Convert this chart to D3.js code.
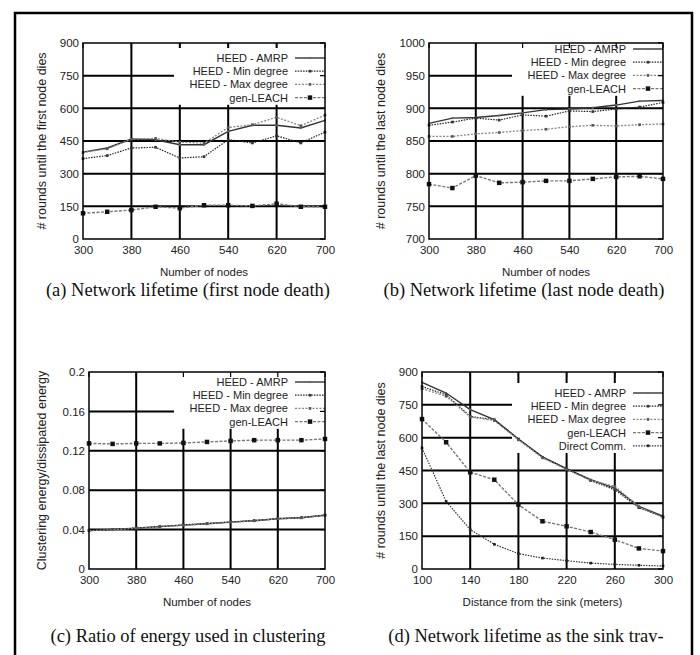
<!DOCTYPE html>
<meta charset='utf-8'>
<style>
  body { margin: 0; background: #fff; }
  svg { display: block; }
  .tick text, .lbl, .leg { font-family: 'Liberation Sans', Arial, sans-serif; fill: #222; }
  .cap { font-family: 'Liberation Serif', 'Times New Roman', serif; fill: #111; }
</style>
<body>
<script src='https://cdn.jsdelivr.net/npm/d3@7/dist/d3.min.js'></script>
<script>
  // x values
  const nodes = [300, 340, 380, 420, 460, 500, 540, 580, 620, 660, 700]
  const nodeTicks = [300, 380, 460, 540, 620, 700]
  const distance = [100, 120, 140, 160, 180, 200, 220, 240, 260, 280, 300]
  const distTicks = [100, 140, 180, 220, 260, 300]

  // (a) first node death
  const firstAmrp  = [399, 418, 459, 456, 433, 433, 494, 522, 522, 510, 545]
  const firstMin   = [369, 383, 418, 421, 372, 378, 456, 441, 474, 441, 491]
  const firstMax   = [397, 414, 458, 462, 445, 440, 512, 525, 559, 520, 569]
  const firstLeach = [118, 125, 133, 148, 142, 155, 155, 152, 162, 148, 148]
  const firstTicks = [0, 150, 300, 450, 600, 750, 900]

  // (b) last node death
  const lastAmrp  = [877, 885, 886, 889, 893, 898, 899, 901, 905, 911, 912]
  const lastMin   = [874, 879, 885, 882, 890, 888, 896, 895, 899, 902, 909]
  const lastMax   = [857, 857, 861, 863, 866, 868, 872, 874, 873, 875, 876]
  const lastLeach = [784, 778, 797, 786, 787, 789, 789, 792, 795, 796, 792]
  const lastTicks = [700, 750, 800, 850, 900, 950, 1000]

  // (c) clustering energy ratio
  const ratioAmrp  = [0.039, 0.040, 0.0415, 0.043, 0.0445, 0.046, 0.0476, 0.049, 0.051, 0.052, 0.0546]
  const ratioMin   = [0.0393, 0.0403, 0.0417, 0.0432, 0.0448, 0.0462, 0.0478, 0.0492, 0.0512, 0.0523, 0.0548]
  const ratioMax   = [0.0388, 0.0399, 0.0413, 0.0429, 0.0444, 0.0459, 0.0475, 0.0489, 0.0509, 0.0519, 0.0545]
  const ratioLeach = [0.1275, 0.127, 0.1275, 0.1275, 0.128, 0.129, 0.130, 0.1308, 0.1308, 0.1308, 0.132]
  const ratioTicks = [0, 0.04, 0.08, 0.12, 0.16, 0.2]

  // (d) sink travelling
  const sinkAmrp   = [853, 804, 728, 682, 594, 512, 458, 408, 370, 286, 241]
  const sinkMin    = [834, 796, 697, 682, 594, 510, 458, 404, 362, 280, 238]
  const sinkMax    = [824, 789, 694, 678, 590, 508, 455, 405, 378, 283, 236]
  const sinkLeach  = [685, 579, 442, 408, 294, 218, 195, 169, 134, 94, 82]
  const sinkDirect = [553, 309, 180, 113, 70, 50, 38, 27, 21, 17, 14]

  const styles = {
    amrp:   {stroke: '#333', dash: null,      width: 1.4, size: 4,  fill: '#666'},
    min:    {stroke: '#222', dash: '1.5,1.2', width: 1.2, size: 7,  fill: '#333'},
    max:    {stroke: '#888', dash: '2,1.5',   width: 1.3, size: 7,  fill: '#555'},
    leach:  {stroke: '#777', dash: '3,1.5',   width: 1.4, size: 20, fill: '#111'},
    direct: {stroke: '#333', dash: '1.5,1.2', width: 1.2, size: 7,  fill: '#222'}
  }

  const svg = d3.select('body').append('svg')
    .attr('width', 700)
    .attr('height', 655)

  svg.append('rect')
    .attr('x', 15).attr('y', 13)
    .attr('width', 677).attr('height', 680)
    .attr('fill', 'none').attr('stroke', '#000').attr('stroke-width', 2.5)

  function panel(c) {
    const x = d3.scaleLinear().domain(d3.extent(c.xs)).range([c.left, c.right])
    const y = d3.scaleLinear().domain(d3.extent(c.yTicks)).range([c.bottom, c.top])
    const g = svg.append('g')

    // grid
    g.append('g').selectAll('line').data(c.xTicks.slice(1, -1)).join('line')
      .attr('x1', d => x(d)).attr('x2', d => x(d))
      .attr('y1', c.top).attr('y2', c.bottom)
      .attr('stroke', '#000').attr('stroke-width', 2)
    g.append('g').selectAll('line').data(c.yTicks.slice(1, -1)).join('line')
      .attr('x1', c.left).attr('x2', c.right)
      .attr('y1', d => y(d)).attr('y2', d => y(d))
      .attr('stroke', '#000').attr('stroke-width', 2)

    // legend box hides the grid, not the data
    const textRight = c.right - 37
    const rows = c.series.length
    g.append('rect')
      .attr('x', textRight - 114).attr('y', c.legendTop - 10)
      .attr('width', c.right - textRight + 114).attr('height', rows * 13.2 + 4)
      .attr('fill', '#fff')

    // series
    const line = d3.line().x((d, i) => x(c.xs[i])).y(d => y(d))
    c.series.forEach(s => {
      const st = styles[s.key]
      g.append('path')
        .attr('d', line(s.values))
        .attr('fill', 'none')
        .attr('stroke', st.stroke)
        .attr('stroke-width', st.width)
        .attr('stroke-dasharray', st.dash)
      g.append('g').selectAll('path').data(s.values).join('path')
        .attr('d', d3.symbol(d3.symbolSquare, st.size))
        .attr('transform', (d, i) => `translate(${x(c.xs[i])},${y(d)})`)
        .attr('fill', st.fill)
    })

    // legend entries
    c.series.forEach((s, i) => {
      const st = styles[s.key]
      const yy = c.legendTop + i * 13.2
      g.append('text').attr('class', 'leg')
        .attr('x', textRight).attr('y', yy + 4)
        .attr('text-anchor', 'end').attr('font-size', 11)
        .text(s.name)
      g.append('line')
        .attr('x1', textRight + 7).attr('x2', c.right)
        .attr('y1', yy).attr('y2', yy)
        .attr('stroke', st.stroke).attr('stroke-width', st.width)
        .attr('stroke-dasharray', st.dash)
      g.append('path')
        .attr('d', d3.symbol(d3.symbolSquare, st.size))
        .attr('transform', `translate(${(textRight + 7 + c.right) / 2},${yy})`)
        .attr('fill', st.fill)
    })

    // mirrored inner ticks
    const tk = g.append('g').attr('stroke', '#000').attr('stroke-width', 1.2)
    c.yTicks.forEach(v => {
      tk.append('line').attr('x1', c.right - 5).attr('x2', c.right).attr('y1', y(v)).attr('y2', y(v))
    })
    c.xTicks.forEach(v => {
      tk.append('line').attr('x1', x(v)).attr('x2', x(v)).attr('y1', c.top).attr('y2', c.top + 5)
    })

    // frame
    g.append('rect')
      .attr('x', c.left).attr('y', c.top)
      .attr('width', c.right - c.left).attr('height', c.bottom - c.top)
      .attr('fill', 'none').attr('stroke', '#000').attr('stroke-width', 1.5)

    // axes labels
    const xa = g.append('g')
      .attr('transform', `translate(0,${c.bottom})`)
      .call(d3.axisBottom(x).tickValues(c.xTicks).tickSize(0).tickPadding(7))
    const ya = g.append('g')
      .attr('transform', `translate(${c.left},0)`)
      .call(d3.axisLeft(y).tickValues(c.yTicks).tickSize(0).tickPadding(4).tickFormat(c.yFormat))
    ;[xa, ya].forEach(a => {
      a.select('.domain').remove()
      a.selectAll('text').attr('font-size', 11.5).attr('font-family', null)
    })

    g.append('text').attr('class', 'lbl')
      .attr('x', (c.left + c.right) / 2).attr('y', c.bottom + 37)
      .attr('text-anchor', 'middle').attr('font-size', 11.5)
      .text(c.xLabel)
    g.append('text').attr('class', 'lbl')
      .attr('transform', `translate(${c.yLabelX},${(c.top + c.bottom) / 2}) rotate(-90)`)
      .attr('text-anchor', 'middle').attr('font-size', 12.5)
      .text(c.yLabel)

    g.append('text').attr('class', 'cap')
      .attr('x', c.capX).attr('y', c.capY)
      .attr('text-anchor', 'middle').attr('font-size', 18.5)
      .text(c.caption)
  }

  const fmtInt = d3.format('d')
  const fmtRatio = d => d === 0 ? '0' : String(d)

  panel({
    left: 83, right: 325, top: 43, bottom: 239,
    xs: nodes, xTicks: nodeTicks, yTicks: firstTicks, yFormat: fmtInt,
    xLabel: 'Number of nodes', yLabel: '# rounds until the first node dies', yLabelX: 46,
    legendTop: 58,
    series: [
      {key: 'amrp', name: 'HEED - AMRP', values: firstAmrp},
      {key: 'min', name: 'HEED - Min degree', values: firstMin},
      {key: 'max', name: 'HEED - Max degree', values: firstMax},
      {key: 'leach', name: 'gen-LEACH', values: firstLeach}
    ],
    caption: '(a) Network lifetime (first node death)', capX: 188, capY: 296
  })

  panel({
    left: 429, right: 663, top: 43, bottom: 239,
    xs: nodes, xTicks: nodeTicks, yTicks: lastTicks, yFormat: fmtInt,
    xLabel: 'Number of nodes', yLabel: '# rounds until the last node dies', yLabelX: 385,
    legendTop: 49,
    series: [
      {key: 'amrp', name: 'HEED - AMRP', values: lastAmrp},
      {key: 'min', name: 'HEED - Min degree', values: lastMin},
      {key: 'max', name: 'HEED - Max degree', values: lastMax},
      {key: 'leach', name: 'gen-LEACH', values: lastLeach}
    ],
    caption: '(b) Network lifetime (last node death)', capX: 524, capY: 296
  })

  panel({
    left: 89, right: 325, top: 372, bottom: 569,
    xs: nodes, xTicks: nodeTicks, yTicks: ratioTicks, yFormat: fmtRatio,
    xLabel: 'Number of nodes', yLabel: 'Clustering energy/dissipated energy', yLabelX: 46,
    legendTop: 382,
    series: [
      {key: 'amrp', name: 'HEED - AMRP', values: ratioAmrp},
      {key: 'min', name: 'HEED - Min degree', values: ratioMin},
      {key: 'max', name: 'HEED - Max degree', values: ratioMax},
      {key: 'leach', name: 'gen-LEACH', values: ratioLeach}
    ],
    caption: '(c) Ratio of energy used in clustering', capX: 188, capY: 642
  })

  panel({
    left: 422, right: 663, top: 372, bottom: 569,
    xs: distance, xTicks: distTicks, yTicks: firstTicks, yFormat: fmtInt,
    xLabel: 'Distance from the sink (meters)', yLabel: '# rounds until the last node dies', yLabelX: 385,
    legendTop: 393,
    series: [
      {key: 'amrp', name: 'HEED - AMRP', values: sinkAmrp},
      {key: 'min', name: 'HEED - Min degree', values: sinkMin},
      {key: 'max', name: 'HEED - Max degree', values: sinkMax},
      {key: 'leach', name: 'gen-LEACH', values: sinkLeach},
      {key: 'direct', name: 'Direct Comm.', values: sinkDirect}
    ],
    caption: '(d) Network lifetime as the sink trav-', capX: 526, capY: 642
  })
</script>
</body>
